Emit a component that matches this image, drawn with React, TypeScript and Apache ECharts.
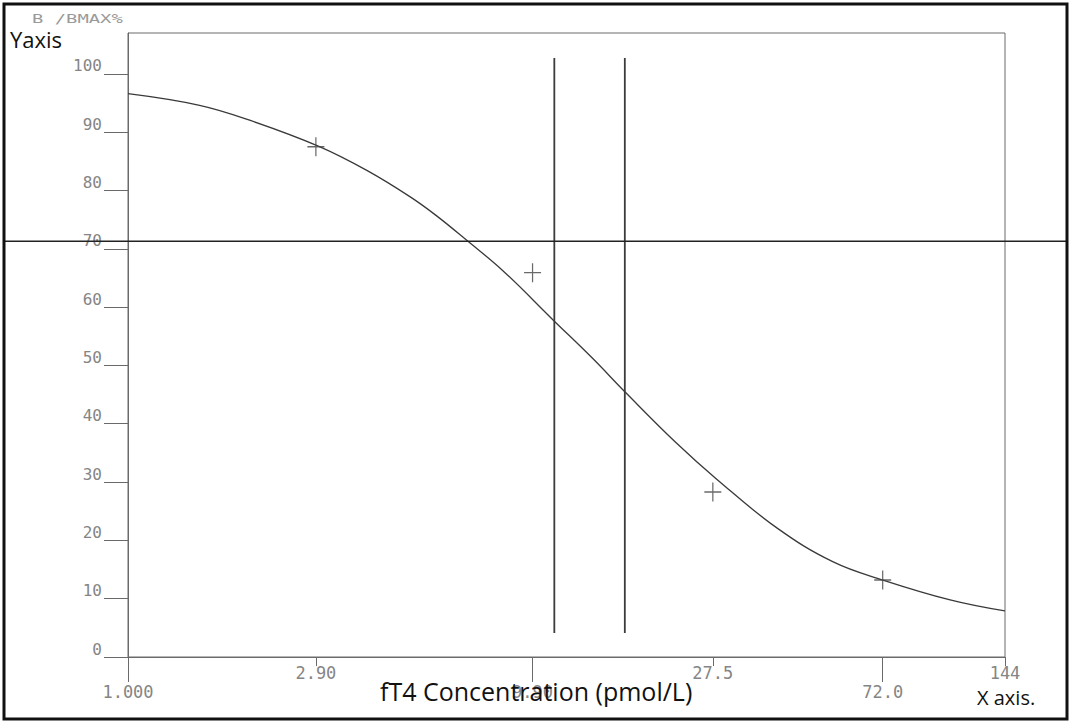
import { useEffect, useRef } from 'react';
import * as echarts from 'echarts';

// ---- axis ticks ----
const xTickValues = [1, 2.9, 9.9, 27.5, 72, 144];
const xTickLabels = ['1.000', '2.90', '9.90', '27.5', '72.0', '144'];
const xTicksRaised = [2.9, 27.5, 144];
const xTicksLowered = [1, 9.9, 72];
const yTickValues = [0, 10, 20, 30, 40, 50, 60, 70, 80, 90, 100];
const xMin = 1;
const xMax = 144;
const yMin = 0;
const yMax = 107;

// ---- fitted curve (B/Bmax % vs concentration) ----
const curveX = [1, 1.5, 2.0, 2.94, 3.88, 4.95, 5.76, 6.83, 8.38, 11.12, 13.87, 16.8, 22.2, 28.2, 39.6, 54.4, 72.1, 105.5, 144];
const curveY = [96.6, 94.6, 92.0, 87.6, 83.4, 78.9, 75.6, 71.4, 66.2, 57.8, 51.3, 45.3, 36.9, 30.4, 22.1, 16.3, 13.2, 9.8, 7.9];

// ---- standards (+ markers) ----
const standardX = [2.9, 9.9, 27.5, 72];
const standardY = [87.5, 65.9, 28.3, 13.2];

// ---- reference lines ----
const cutoffX = [11.2, 16.7];
const cutoffYRange = [4.1, 102.7];
const refLineY = 71.3;

const lg = (v: number) => Math.log10(v);
const labelFor = (v: number) => {
  const i = xTickValues.findIndex((t) => Math.abs(lg(t) - v) < 1e-6);
  return i >= 0 ? xTickLabels[i] : '';
};

const MONO = 'DejaVu Sans Mono';
const LABEL_COLOR = '#858585';
const AXIS_COLOR = '#6a6a6a';

export default function App() {
  const ref = useRef<HTMLDivElement>(null);

  useEffect(() => {
    if (!ref.current) return;
    const chart = echarts.init(ref.current, undefined, { renderer: 'svg' });

    const makeXAxis = (vals: number[], tickLen: number, margin: number) => ({
      type: 'value',
      gridIndex: 0,
      position: 'bottom',
      min: lg(xMin),
      max: lg(xMax),
      axisLine: { show: true, onZero: false, lineStyle: { color: AXIS_COLOR, width: 1 } },
      splitLine: { show: false },
      axisTick: {
        show: true,
        length: tickLen,
        customValues: vals.map(lg),
        lineStyle: { color: AXIS_COLOR, width: 1 },
      },
      axisLabel: {
        customValues: vals.map(lg),
        formatter: labelFor,
        margin,
        color: LABEL_COLOR,
        fontFamily: MONO,
        fontSize: 17,
      },
    });

    const option: any = {
      animation: false,
      backgroundColor: '#ffffff',
      grid: {
        left: 128,
        right: 67,
        top: 33,
        bottom: 65,
        show: true,
        borderColor: '#6a6a6a',
        borderWidth: 1,
        backgroundColor: 'transparent',
      },
      xAxis: [makeXAxis(xTicksRaised, 9, 7), makeXAxis(xTicksLowered, 25, 26)],
      yAxis: {
        type: 'value',
        min: yMin,
        max: yMax,
        axisLine: { show: true, lineStyle: { color: AXIS_COLOR, width: 1 } },
        splitLine: { show: false },
        axisTick: {
          show: true,
          length: 24,
          customValues: yTickValues,
          lineStyle: { color: AXIS_COLOR, width: 1 },
        },
        axisLabel: {
          customValues: yTickValues,
          margin: 26,
          verticalAlign: 'bottom',
          color: LABEL_COLOR,
          fontFamily: MONO,
          fontSize: 16,
        },
      },
      series: [
        {
          type: 'line',
          xAxisIndex: 0,
          data: curveX.map((x, i) => [lg(x), curveY[i]]),
          smooth: 0.4,
          showSymbol: false,
          lineStyle: { color: '#3a3a3a', width: 1.3 },
          z: 3,
        },
        {
          type: 'scatter',
          xAxisIndex: 0,
          data: standardX.map((x, i) => [lg(x), standardY[i]]),
          symbol: 'path://M10,0 L10,20 M0,10 L20,10',
          symbolSize: [17, 19],
          itemStyle: { color: 'transparent', borderColor: '#444', borderWidth: 1.3 },
          z: 4,
        },
        ...cutoffX.map((cx) => ({
          type: 'line',
          xAxisIndex: 0,
          data: cutoffYRange.map((y) => [lg(cx), y]),
          showSymbol: false,
          lineStyle: { color: '#3c3c3c', width: 1.8 },
          z: 2,
        })),
      ],
    };

    chart.setOption(option);
    const hy = chart.convertToPixel({ yAxisIndex: 0 }, refLineY) as number;

    chart.setOption({
      graphic: [
        {
          type: 'line',
          shape: { x1: 5, y1: hy, x2: 1066, y2: hy },
          style: { stroke: '#222', lineWidth: 1.6 },
          z: 10,
        },
        {
          type: 'rect',
          shape: { x: 4, y: 4, width: 1063, height: 715 },
          style: { fill: 'none', stroke: '#111', lineWidth: 3 },
          z: 20,
        },
        {
          type: 'text',
          x: 32,
          y: 12,
          scaleX: 1.45,
          style: { text: 'B /BMAX%', fill: '#9a9a9a', font: `13px "${MONO}"` },
          z: 10,
        },
        {
          type: 'text',
          left: 10,
          top: 28,
          style: { text: 'Yaxis', fill: '#111', font: '22px "Open Sans"' },
          z: 10,
        },
        {
          type: 'text',
          left: 380,
          top: 678,
          style: { text: 'fT4 Concentration (pmol/L)', fill: '#111', font: '25px "Open Sans"' },
          z: 10,
        },
        {
          type: 'text',
          left: 977,
          top: 687,
          style: { text: 'X axis.', fill: '#111', font: '20px "Open Sans"' },
          z: 10,
        },
      ],
    });

    return () => chart.dispose();
  }, []);

  return (
    <div
      ref={ref}
      style={{ position: 'absolute', left: 0, top: 0, width: 1072, height: 722 }}
    />
  );
}
